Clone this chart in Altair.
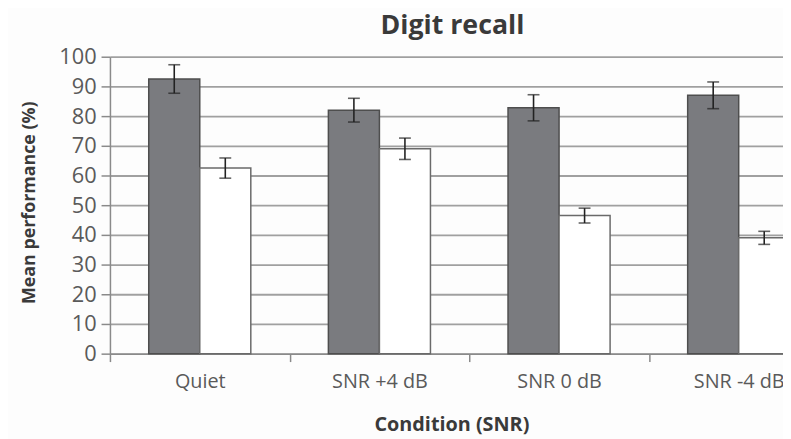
import altair as alt
import pandas as pd

conditions = ["Quiet", "SNR +4 dB", "SNR 0 dB", "SNR -4 dB"]
series = ["A", "B"]
values_a = [92.5, 82.0, 82.8, 87.0]
errors_a = [4.8, 4.0, 4.4, 4.5]
values_b = [62.5, 69.0, 46.5, 39.0]
errors_b = [3.4, 3.6, 2.5, 2.2]
y_ticks = [0, 10, 20, 30, 40, 50, 60, 70, 80, 90, 100]

rows = []
for i, c in enumerate(conditions):
    rows.append({"cond": c, "grp": "A", "v": values_a[i], "lo": values_a[i] - errors_a[i], "hi": values_a[i] + errors_a[i]})
    rows.append({"cond": c, "grp": "B", "v": values_b[i], "lo": values_b[i] - errors_b[i], "hi": values_b[i] + errors_b[i]})
df = pd.DataFrame(rows)

FONT = "Open Sans"
x_scale = alt.Scale(domain=conditions, range=[0, 726], paddingInner=0, paddingOuter=0)
xo_scale = alt.Scale(domain=series, paddingInner=0, paddingOuter=0.76)

x_axis = alt.Axis(
    title="Condition (SNR)",
    labelAngle=0,
    tickBand="extent",
    tickSize=8,
    tickColor="#8a8a8a",
    tickWidth=1.5,
    domainColor="#8a8a8a",
    domainWidth=1.5,
    labelFont=FONT,
    labelFontSize=20,
    labelColor="#5a5a5a",
    labelPadding=10,
    titleFont=FONT,
    titleFontSize=20,
    titleFontWeight="bold",
    titleColor="#3a3a3a",
    titleX=345,
    titleY=72,
    titleAlign="center",
    titleBaseline="middle",
    grid=False,
)

y_scale = alt.Scale(domain=[0, 100], nice=False)
y_axis = alt.Axis(
    title="Mean performance (%)",
    values=y_ticks,
    labelOverlap=False,
    grid=True,
    gridColor="#a0a0a0",
    gridWidth=1.8,
    tickSize=9,
    tickColor="#8a8a8a",
    tickWidth=1.5,
    domainColor="#8a8a8a",
    domainWidth=1.5,
    labelFont=FONT,
    labelFontSize=22,
    labelColor="#5a5a5a",
    labelPadding=5,
    titleFont=FONT,
    titleFontSize=18,
    titleFontWeight="bold",
    titleColor="#3a3a3a",
    titleX=-81,
    titleY=147,
    titleAngle=270,
    titleAlign="center",
    titleBaseline="middle",
)

def xenc():
    return alt.X("cond:N", scale=x_scale, sort=conditions, axis=x_axis)

def xoff():
    return alt.XOffset("grp:N", scale=xo_scale)

bars = alt.Chart(df).mark_bar(strokeWidth=1.5).encode(
    x=xenc(),
    xOffset=xoff(),
    y=alt.Y("v:Q", scale=y_scale, axis=y_axis),
    color=alt.Color("grp:N", scale=alt.Scale(domain=series, range=["#7a7b7f", "#ffffff"]), legend=None),
    stroke=alt.Stroke("grp:N", scale=alt.Scale(domain=series, range=["#4e4e4e", "#6a6a6a"]), legend=None),
)

err = alt.Chart(df).mark_rule(color="#222222", strokeWidth=1.6).encode(
    x=xenc(),
    xOffset=xoff(),
    y=alt.Y("lo:Q", scale=y_scale, axis=y_axis),
    y2="hi:Q",
)

cap_hi = alt.Chart(df).mark_tick(color="#222222", thickness=1.6, size=12).encode(
    x=xenc(),
    xOffset=xoff(),
    y=alt.Y("hi:Q", scale=y_scale, axis=y_axis),
)
cap_lo = alt.Chart(df).mark_tick(color="#222222", thickness=1.6, size=12).encode(
    x=xenc(),
    xOffset=xoff(),
    y=alt.Y("lo:Q", scale=y_scale, axis=y_axis),
)

chart = (
    alt.layer(bars, err, cap_hi, cap_lo)
    .properties(
        width=680,
        height=300,
        autosize=alt.AutoSizeParams(type="none"),
        padding={"left": 103, "top": 47, "right": 0, "bottom": 84},
        background="#fdfdfd",
        title=alt.TitleParams(
            "Digit recall",
            font=FONT,
            fontSize=27,
            fontWeight="bold",
            color="#3a3a3a",
            anchor="middle",
            dx=6,
            offset=6,
        ),
    )
    .configure_view(stroke=None)
)

chart.save("out.html", embed_options={"renderer": "svg", "actions": False})
